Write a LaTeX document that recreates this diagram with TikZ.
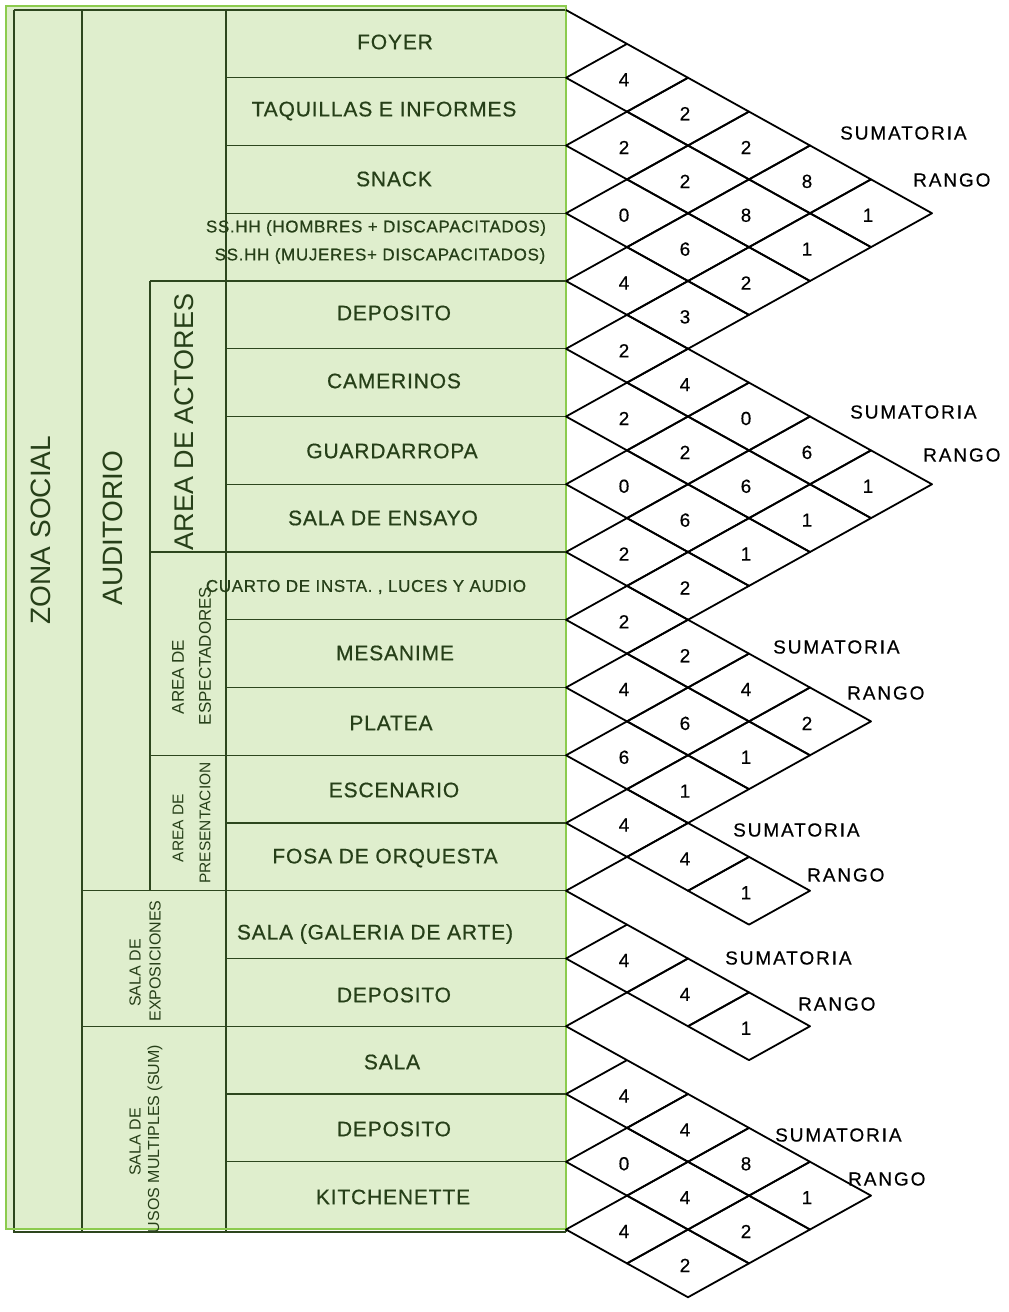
\documentclass[tikz,border=0pt]{standalone}
\usepackage{fontspec}
\setmainfont{Liberation Sans}
\newfontfamily\roomfont[LetterSpace=4,FakeBold=0.6]{Liberation Sans}
\newfontfamily\numfont[FakeBold=0.4]{Liberation Sans}
\newfontfamily\sumfont[LetterSpace=10,FakeBold=0.3]{Liberation Sans}
\definecolor{tblfill}{HTML}{DFEECD}
\definecolor{tblline}{HTML}{2D461E}
\definecolor{tbltext}{HTML}{263F18}
\definecolor{tblborder}{HTML}{8CCB4E}
\begin{document}
\begin{tikzpicture}[x=1pt,y=-1pt,
  tline/.style={draw=tblline, line width=1.4pt},
  lat/.style={draw=black, line width=1.8pt, line join=round},
  room/.style={font=\roomfont\fontsize{21}{24}\selectfont, text=tbltext, inner sep=0pt},
  roomsm/.style={font=\roomfont\fontsize{17}{20}\selectfont, text=tbltext, inner sep=0pt},
  vbig/.style={font=\fontsize{#1}{#1}\selectfont, text=tbltext, rotate=90, inner sep=0pt},
  vsm/.style={font=\fontsize{#1}{#1}\selectfont, text=tbltext, rotate=90, inner sep=0pt},
  num/.style={font=\numfont\fontsize{19}{22}\selectfont, inner sep=0pt},
  sumlab/.style={font=\sumfont\fontsize{19}{22}\selectfont, anchor=west, inner sep=0pt}]
\def\latk{61}
\def\lath{33.875}
\useasboundingbox (0,0) rectangle (1009,1312);
\fill[white] (0,0) rectangle (1009,1312);
% table
\fill[tblfill] (6,6) rectangle (566,1229);
\draw[tline] (14,10) -- (566,10);
\draw[tline] (14,10) -- (14,1232) -- (566,1232);
\draw[tline] (566,10) -- (566,1232);
\draw[tline] (82,10) -- (82,1232);
\draw[tline] (226,10) -- (226,1232);
\draw[tline] (150,281) -- (150,890.75);
\foreach \p in {1,...,17} \draw[tline] (226,{10+67.75*\p}) -- (566,{10+67.75*\p});
\draw[tline] (150,281) -- (226,281);
\draw[tline] (150,552) -- (226,552);
\draw[tline] (150,755.25) -- (226,755.25);
\draw[tline] (82,890.75) -- (226,890.75);
\draw[tline] (82,1026.25) -- (226,1026.25);
\draw[draw=tblborder, line width=2.5pt] (6,6) rectangle (566,1229);
% vertical group labels
\node[vbig=28] (zs) at (41,530) {ZONA SOCIAL};
\node[vbig=28] (aud) at (113,528) {AUDITORIO};
\node[vbig=27] (aact) at (184,422) {AREA DE ACTORES};
\node[vsm=17] (aesp1) at (178,677) {AREA DE};
\node[vsm=17] (aesp2) at (205,656) {ESPECTADORES};
\node[vsm=15.5] (apre1) at (178,828) {AREA DE};
\node[vsm=15.5] (apre2) at (205,823) {PRESENTACION};
\node[vsm=16] (sexp1) at (135,973) {SALA DE};
\node[vsm=16] (sexp2) at (155,961) {EXPOSICIONES};
\node[vsm=16] (ssum1) at (135,1142) {SALA DE};
\node[vsm=16] (ssum2) at (155,1139) {USOS MULTIPLES (SUM)};
% rooms
\node[room] (r1) at (395,42) {FOYER};
\node[room] (r2) at (384,111) {TAQUILLAS E INFORMES};
\node[room] (r3) at (394,179) {SNACK};
\node[roomsm] (r4a) at (376,228) {SS.HH (HOMBRES + DISCAPACITADOS)};
\node[roomsm] (r4b) at (380,256) {SS.HH (MUJERES+ DISCAPACITADOS)};
\node[room] (r5) at (394,313) {DEPOSITO};
\node[room] (r6) at (394,381) {CAMERINOS};
\node[room] (r7) at (392,451) {GUARDARROPA};
\node[room] (r8) at (383,518) {SALA DE ENSAYO};
\node[roomsm] (r9) at (366,587) {CUARTO DE INSTA. , LUCES Y AUDIO};
\node[room] (r10) at (395,653) {MESANIME};
\node[room] (r11) at (391,723) {PLATEA};
\node[room] (r12) at (394,790) {ESCENARIO};
\node[room] (r13) at (385,858) {FOSA DE ORQUESTA};
\node[room] (r14) at (375,934) {SALA (GALERIA DE ARTE)};
\node[room] (r15) at (394,995) {DEPOSITO};
\node[room] (r16) at (392,1062) {SALA};
\node[room] (r17) at (394,1129) {DEPOSITO};
\node[room] (r18) at (393,1197) {KITCHENETTE};
% lattice cells
\foreach \i/\j/\v in {1/2/4,1/3/2,1/4/2,1/5/8,1/6/1,2/3/2,2/4/2,2/5/8,2/6/1,3/4/0,3/5/6,3/6/2,4/5/4,4/6/3,
  5/6/2,5/7/4,5/8/0,5/9/6,5/10/1,6/7/2,6/8/2,6/9/6,6/10/1,7/8/0,7/9/6,7/10/1,8/9/2,8/10/2,
  9/10/2,9/11/2,9/12/4,9/13/2,10/11/4,10/12/6,10/13/1,11/12/6,11/13/1,
  12/13/4,12/14/4,12/15/1,
  14/15/4,14/16/4,14/17/1,
  16/17/4,16/18/4,16/19/8,16/20/1,17/18/0,17/19/4,17/20/2,18/19/4,18/20/2}{
  \draw[lat] ({566+\latk*(\j-\i-1)},{10+\lath*(\i+\j-1)}) -- ({566+\latk*(\j-\i)},{10+\lath*(\i+\j-2)})
    -- ({566+\latk*(\j-\i+1)},{10+\lath*(\i+\j-1)}) -- ({566+\latk*(\j-\i)},{10+\lath*(\i+\j)}) -- cycle;
  \node[num] (c-\i-\j) at ({566+\latk*(\j-\i)-3},{10+\lath*(\i+\j-1)+2}) {\v};
}
% partial segments
\draw[lat] (566,10) -- (627,43.875);
\draw[lat] (627,856.875) -- (566,890.75) -- (627,924.625);
\draw[lat] (627,992.375) -- (566,1026.25) -- (627,1060.125);
% sum labels
\node[sumlab] (s1) at (840,133) {SUMATORIA};
\node[sumlab] (g1) at (913,180) {RANGO};
\node[sumlab] (s2) at (850,412) {SUMATORIA};
\node[sumlab] (g2) at (923,455) {RANGO};
\node[sumlab] (s3) at (773,647) {SUMATORIA};
\node[sumlab] (g3) at (847,693) {RANGO};
\node[sumlab] (s4) at (733,830) {SUMATORIA};
\node[sumlab] (g4) at (807,875) {RANGO};
\node[sumlab] (s5) at (725,958) {SUMATORIA};
\node[sumlab] (g5) at (798,1004) {RANGO};
\node[sumlab] (s6) at (775,1135) {SUMATORIA};
\node[sumlab] (g6) at (848,1179) {RANGO};
\end{tikzpicture}
\end{document}
